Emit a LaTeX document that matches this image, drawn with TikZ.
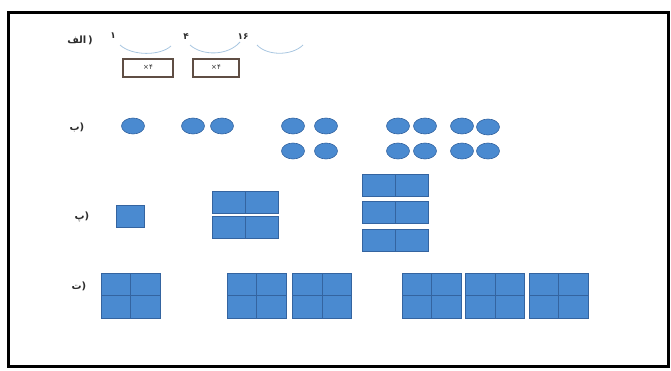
\documentclass[tikz,border=0pt]{standalone}
\usepackage{fontspec}
\usetikzlibrary{shapes.geometric}
\newfontfamily\fa[Script=Arabic]{DejaVu Sans}
\newfontfamily\lat{DejaVu Sans}
\TeXXeTstate=1
\definecolor{cellfill}{RGB}{74,138,208}
\definecolor{celldraw}{RGB}{52,100,160}
\definecolor{arcblue}{RGB}{168,198,224}
\definecolor{boxbrown}{RGB}{95,78,68}
\definecolor{labelgrey}{RGB}{45,45,45}
\newcommand{\rpar}{{\lat\bfseries )}}
\begin{document}
\begin{tikzpicture}[x=1pt,y=-1pt,
  lbl/.style={font=\fontsize{10}{11}\selectfont,text=labelgrey,inner sep=0pt},
  num/.style={font=\fa\bfseries\fontsize{9}{10}\selectfont,text=labelgrey,inner sep=0pt},
  dot/.style={ellipse,fill=cellfill,draw=celldraw,line width=0.6pt,minimum width=23pt,minimum height=16pt,inner sep=0pt},
  cell/.style={rectangle,fill=cellfill,draw=celldraw,line width=0.7pt,inner sep=0pt},
  hcell/.style={cell,minimum width=33pt,minimum height=22pt},
  qcell/.style={cell,minimum width=29.5pt,minimum height=22.5pt},
  mulbox/.style={rectangle,draw=boxbrown,line width=1.2pt,fill=white,minimum height=18pt,inner sep=0pt,font=\fa\fontsize{7}{8}\selectfont,text=labelgrey},
  hop/.style={draw=arcblue,line width=0.8pt}]
\useasboundingbox (0,0) rectangle (671,370);
\node[draw=black,line width=2.6pt,minimum width=660pt,minimum height=354pt,inner sep=0pt] (frame) at (338.5,189.5) {};
% row alef
\node[lbl] (la) at (80,40) {{\fa\bfseries\beginR الف\endR}\,\rpar};
\node[num] (n1) at (113,36) {۱};
\node[num] (n4) at (186,37) {۴};
\node[num] (n16) at (243,37) {۱۶};
\coordinate (a1s) at (120,45); \coordinate (a1e) at (171,46);
\coordinate (a2s) at (190,45); \coordinate (a2e) at (240,42);
\coordinate (a3s) at (257,45); \coordinate (a3e) at (303,45);
\draw[hop] (a1s) .. controls (132,56) and (160,56) .. (a1e);
\draw[hop] (a2s) .. controls (202,56) and (228,56) .. (a2e);
\draw[hop] (a3s) .. controls (267,56) and (292,56) .. (a3e);
\node[mulbox,minimum width=50pt] (b1) at (148,68) {\raisebox{2pt}{{\lat ×}{\fa ۴}}};
\node[mulbox,minimum width=46pt] (b2) at (216,68) {\raisebox{2pt}{{\lat ×}{\fa ۴}}};
% row be
\node[lbl] (lb) at (77,127) {{\fa\bfseries ب}\rpar};
\node[dot] (d1) at (133,126) {};
\node[dot] (d2) at (193,126) {};
\node[dot] (d3) at (222,126) {};
\node[dot] (d4) at (293,126) {};
\node[dot] (d5) at (326,126) {};
\node[dot] (d6) at (293,151) {};
\node[dot] (d7) at (326,151) {};
\node[dot] (d8) at (398,126) {};
\node[dot] (d9) at (425,126) {};
\node[dot] (d10) at (462,126) {};
\node[dot] (d11) at (488,127) {};
\node[dot] (d12) at (398,151) {};
\node[dot] (d13) at (425,151) {};
\node[dot] (d14) at (462,151) {};
\node[dot] (d15) at (488,151) {};
% row pe
\node[lbl] (lp) at (82,217) {{\fa\bfseries پ}\rpar};
\node[cell,minimum width=28pt,minimum height=22pt] (s1) at (130,216) {};
\node[hcell] (m1) at (228.5,202) {};
\node[hcell] (m2) at (261.5,202) {};
\node[hcell] (m3) at (228.5,227.5) {};
\node[hcell] (m4) at (261.5,227.5) {};
\node[hcell] (r1) at (379,185) {};
\node[hcell] (r2) at (412,185) {};
\node[hcell] (r3) at (379,212.5) {};
\node[hcell] (r4) at (412,212.5) {};
\node[hcell] (r5) at (379,240) {};
\node[hcell] (r6) at (412,240) {};
% row te
\node[lbl] (lt) at (79,286) {{\fa\bfseries ت}\rpar};
\foreach \nm/\x in {q1/101,q2/227,q3/292.5,q4/402,q5/465.5,q6/529}{
  \node[qcell] (\nm a) at (\x+14.75,284.25) {};
  \node[qcell] (\nm b) at (\x+44.25,284.25) {};
  \node[qcell] (\nm c) at (\x+14.75,306.75) {};
  \node[qcell] (\nm d) at (\x+44.25,306.75) {};
}
\end{tikzpicture}
\end{document}
